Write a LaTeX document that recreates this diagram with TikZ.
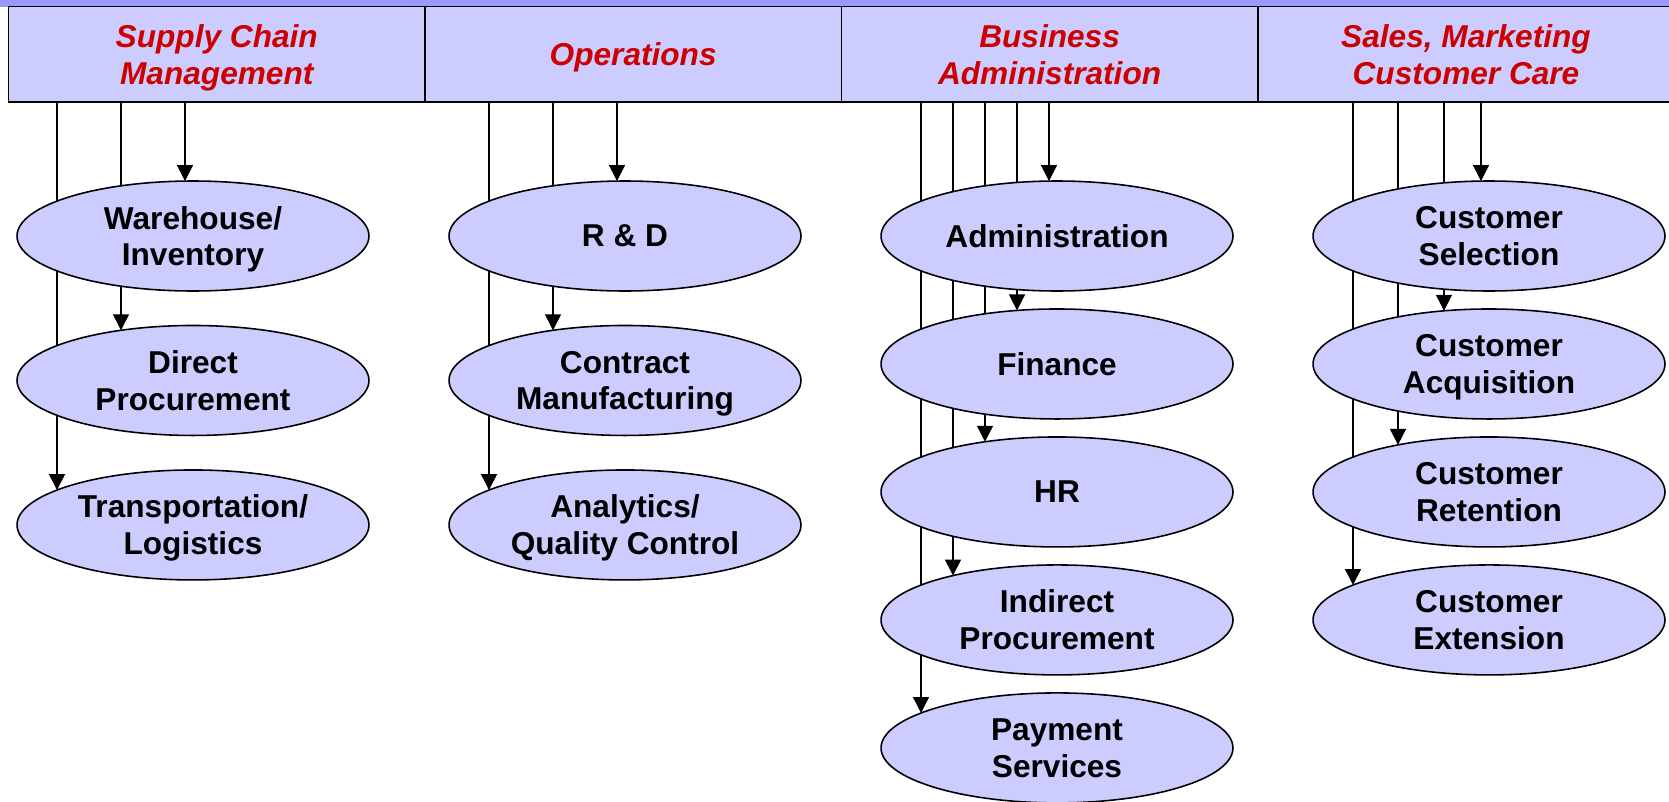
\documentclass[tikz,border=0pt]{standalone}
\usepackage{fontspec}
\setmainfont{Liberation Sans}
\usetikzlibrary{positioning, shapes.geometric, arrows.meta, backgrounds}

\definecolor{lav}{HTML}{CCCCFF}
\definecolor{lavdark}{HTML}{9999FF}
\definecolor{hdred}{HTML}{CC0000}

\tikzset{
  cell/.style={draw, line width=0.9pt, fill=lav, minimum width=8.33cm, minimum height=1.91cm,
    inner sep=0pt, outer sep=0pt, align=center, text=hdred, text depth=-0.6pt,
    font=\fontsize{18}{21}\selectfont\bfseries\itshape},
  bubble/.style={ellipse, draw, line width=0.9pt, fill=lav, minimum width=7.04cm, minimum height=2.2cm,
    inner sep=0pt, outer sep=0pt, align=center, text depth=0pt,
    font=\fontsize{18}{21}\selectfont\bfseries},
  arr/.style={line width=0.8pt, -{Triangle[length=0.32cm, width=0.32cm]}}
}

\begin{document}
\begin{tikzpicture}[x=0.02cm, y=-0.02cm]
        \useasboundingbox (0,0) rectangle (1669,801);
        \fill[lavdark] (0,0) rectangle (1669,6.5);
        % header row
        \node[cell] (scm) at (216.75,54.25) {Supply Chain\\Management};
        \node[cell, right=0pt of scm] (ops) {Operations};
        \node[cell, right=0pt of ops] (badm) {Business\\Administration};
        \node[cell, right=0pt of badm] (smcc) {Sales, Marketing\\Customer Care};
        % supply chain
        \node[bubble] (whs) at (193,236) {Warehouse/\\Inventory};
        \node[bubble, below=0.69cm of whs] (dproc) {Direct\\Procurement};
        \node[bubble, below=0.69cm of dproc] (trans) {Transportation/\\Logistics};
        % operations
        \node[bubble] (rnd) at (625,236) {R \& D};
        \node[bubble, below=0.69cm of rnd] (cman) {Contract\\Manufacturing};
        \node[bubble, below=0.69cm of cman] (aqc) {Analytics/\\Quality Control};
        % business administration
        \node[bubble] (adm) at (1057,236) {Administration};
        \node[bubble, below=0.36cm of adm] (fin) {Finance};
        \node[bubble, below=0.36cm of fin] (hr) {HR};
        \node[bubble, below=0.36cm of hr] (iproc) {Indirect\\Procurement};
        \node[bubble, below=0.36cm of iproc] (pay) {Payment\\Services};
        % sales, marketing
        \node[bubble] (csel) at (1489,236) {Customer\\Selection};
        \node[bubble, below=0.36cm of csel] (cacq) {Customer\\Acquisition};
        \node[bubble, below=0.36cm of cacq] (cret) {Customer\\Retention};
        \node[bubble, below=0.36cm of cret] (cext) {Customer\\Extension};
        % feeds behind the bubbles
        \begin{scope}[on background layer]
        \foreach \h/\t/\d in {scm/whs/-8, scm/dproc/-72, scm/trans/-136,
                              ops/rnd/-8, ops/cman/-72, ops/aqc/-136,
                              badm/adm/-8, badm/fin/-40, badm/hr/-72, badm/iproc/-104, badm/pay/-136,
                              smcc/csel/-8, smcc/cacq/-45, smcc/cret/-91, smcc/cext/-136} {
            \pgfmathsetmacro\dy{55*sqrt(1-(\d/176)^2)}
            \coordinate (e) at ([shift={(\d,-\dy)}] \t.center);
            \draw[arr] (e |- \h.south) -- (e);
        }
        \end{scope}
    \end{tikzpicture}
\end{document}
